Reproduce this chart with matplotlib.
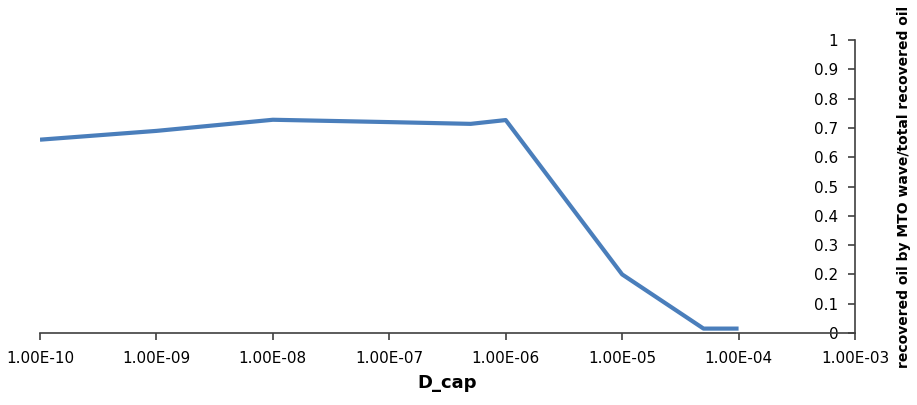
import numpy as np
import matplotlib.pyplot as plt
from matplotlib.ticker import FixedLocator

# data
d_cap = [1e-10, 1e-9, 1e-8, 1e-7, 5e-7, 1e-6, 1e-5, 5e-5, 1e-4]
ratio = [0.66, 0.69, 0.728, 0.72, 0.714, 0.727, 0.20, 0.015, 0.015]

xticks = [1e-10, 1e-9, 1e-8, 1e-7, 1e-6, 1e-5, 1e-4, 1e-3]
xlabels = ['1.00E-10', '1.00E-09', '1.00E-08', '1.00E-07',
           '1.00E-06', '1.00E-05', '1.00E-04', '1.00E-03']
yticks = [0, 0.1, 0.2, 0.3, 0.4, 0.5, 0.6, 0.7, 0.8, 0.9, 1]
ylabels = ['0', '0.1', '0.2', '0.3', '0.4', '0.5', '0.6', '0.7', '0.8', '0.9', '1']

fig = plt.figure(figsize=(9.17, 4.05), dpi=100)
ax = fig.add_axes([0.0436, 0.1778, 0.8888, 0.7232])

ax.plot(d_cap, ratio, color='#4A7EBB', lw=3, solid_capstyle='butt')

ax.set_xscale('log')
ax.set_xlim(1e-10, 1e-3)
ax.set_ylim(0, 1)
ax.xaxis.set_major_locator(FixedLocator(xticks))
ax.xaxis.set_minor_locator(FixedLocator([]))
ax.set_xticklabels(xlabels, fontsize=11)
ax.set_yticks(yticks)
ax.set_yticklabels(ylabels, fontsize=11)

for s in ['top', 'left']:
    ax.spines[s].set_visible(False)
for s in ['bottom', 'right']:
    ax.spines[s].set_color('#404040')
    ax.spines[s].set_linewidth(1.2)

ax.tick_params(axis='x', direction='out', length=5, width=1.2, color='#404040', pad=8)
ax.tick_params(axis='y', left=False, right=True, labelleft=False, labelright=True,
               direction='in', length=5, width=1.2, color='#404040', pad=-12)
for t in ax.yaxis.get_major_ticks():
    t.label2.set_horizontalalignment('right')

ax.set_xlabel('D_cap', fontsize=13, fontweight='bold', labelpad=6)
ax.yaxis.set_label_position('right')
ax.set_ylabel('recovered oil by MTO wave/total recovered oil', fontsize=10,
              fontweight='bold', rotation=90, labelpad=30)

fig.savefig('out.png', dpi=100)
